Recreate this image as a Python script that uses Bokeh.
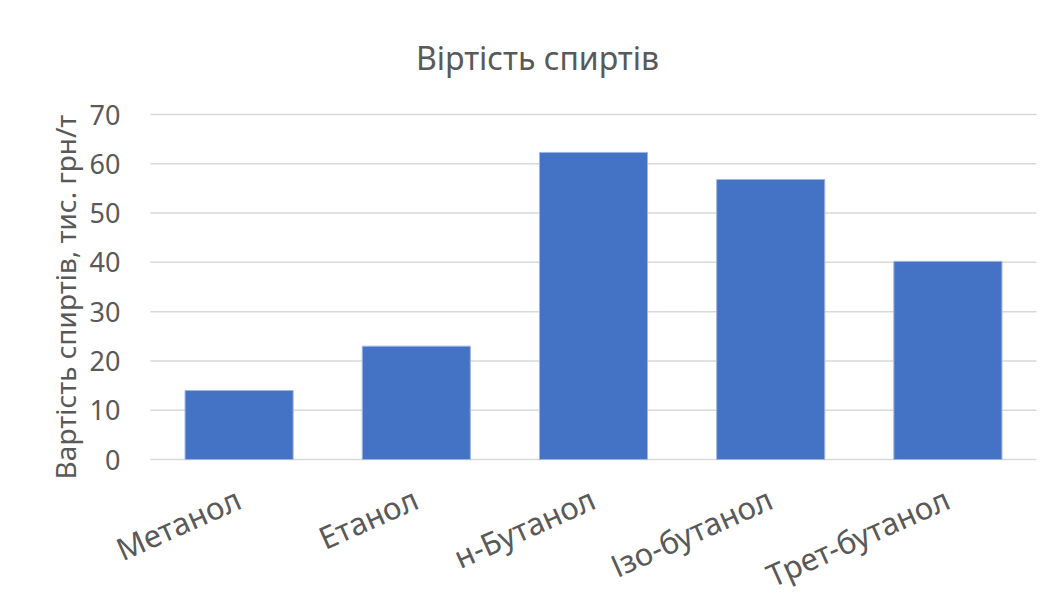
import math
from bokeh.plotting import figure
from bokeh.models import Range1d, ColumnDataSource
from bokeh.core.properties import value
from bokeh.embed import file_html
from bokeh.resources import INLINE

# Alcohol prices, thousand UAH per tonne
alcohols = ["Метанол", "Етанол", "н-Бутанол", "Ізо-бутанол", "Трет-бутанол"]
prices = [14.0, 23.0, 62.3, 56.8, 40.2]
y_ticks = [0, 10, 20, 30, 40, 50, 60, 70]
title_text = "Віртість спиртів"
y_title = "Вартість спиртів, тис. грн/т"

FONT = "Noto Sans"
TEXT_COLOR = "#595959"
BAR_COLOR = "#4472C4"
GRID_COLOR = "#d9d9d9"

# Canvas and plotting-area geometry (pixels)
W, H = 1052, 596
AREA_LEFT, AREA_RIGHT = 150, 1036
AREA_TOP, AREA_BOTTOM = 114, 459

n = len(alcohols)
y_max = y_ticks[-1]
px_x = (AREA_RIGHT - AREA_LEFT) / n          # pixels per category
px_y = (AREA_BOTTOM - AREA_TOP) / y_max      # pixels per value unit

# The whole canvas is used as the data frame so that slanted labels,
# tick labels and the title can sit around the bars without clipping.
x_range = Range1d(-AREA_LEFT / px_x, n + (W - AREA_RIGHT) / px_x)
y_range = Range1d(-(H - AREA_BOTTOM) / px_y, y_max + AREA_TOP / px_y)

p = figure(width=W, height=H, x_range=x_range, y_range=y_range,
           output_backend="svg", toolbar_location=None,
           min_border=0, min_border_left=0, min_border_right=0,
           min_border_top=0, min_border_bottom=0)
p.outline_line_color = None
p.background_fill_color = "white"
p.border_fill_color = "white"
p.xaxis.visible = False
p.yaxis.visible = False
p.grid.visible = False

centers = [i + 0.5 for i in range(n)]
bars = ColumnDataSource(data=dict(x=centers, price=prices, name=alcohols))
ticks = ColumnDataSource(data=dict(y=y_ticks, label=[str(t) for t in y_ticks],
                                   x0=[0] * len(y_ticks), x1=[n] * len(y_ticks)))

# Horizontal gridlines
p.segment(x0="x0", x1="x1", y0="y", y1="y", source=ticks,
          line_color=GRID_COLOR, line_width=1.5)

# Bars
p.vbar(x="x", top="price", width=0.61, source=bars,
       fill_color=BAR_COLOR, line_color="#9db5e3", line_width=1)

# Value axis tick labels
p.text(x="x0", y="y", text="label", source=ticks,
       x_offset=-30, text_align="right", text_baseline="middle",
       text_font=value(FONT), text_font_size="27px", text_color=TEXT_COLOR)

# Value axis title
p.text(x=[0], y=[(y_ticks[0] + y_ticks[-1]) / 2], text=[y_title],
       x_offset=-86, y_offset=10, angle=math.pi / 2,
       text_align="center", text_baseline="middle",
       text_font=value(FONT), text_font_size="28px", text_color=TEXT_COLOR)

# Slanted category labels
p.text(x="x", y=0, text="name", source=bars,
       x_offset=-9, y_offset=18, angle=0.42,
       text_align="right", text_baseline="top",
       text_font=value(FONT), text_font_size="31px", text_color=TEXT_COLOR)

# Chart title
p.text(x=[n / 2], y=[y_max], text=[title_text],
       x_offset=537 - (AREA_LEFT + AREA_RIGHT) / 2, y_offset=-57,
       text_align="center", text_baseline="middle",
       text_font=value(FONT), text_font_size="32px", text_color=TEXT_COLOR)

open("out.html", "w").write(file_html(p, INLINE))
